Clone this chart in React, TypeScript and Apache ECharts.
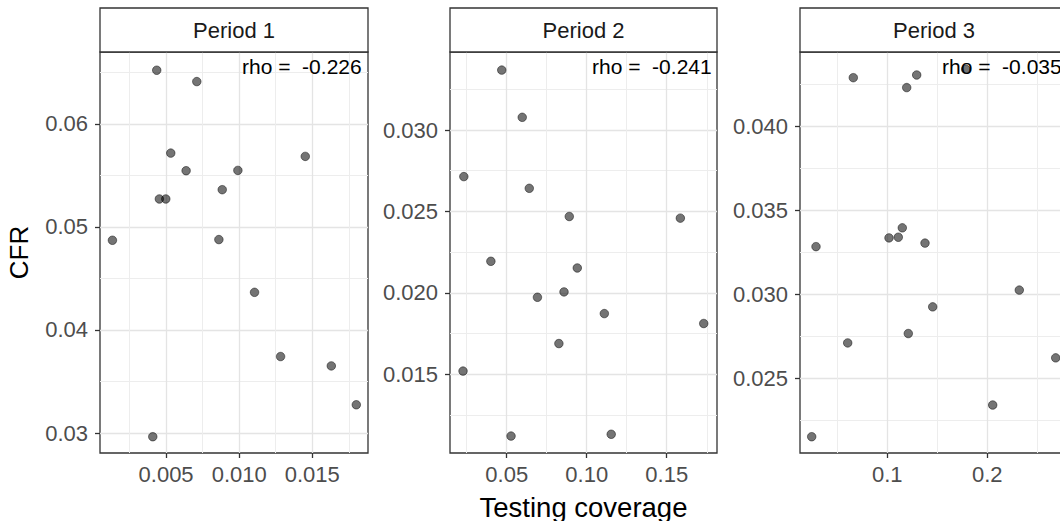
import React, { useEffect, useRef } from "react";
import * as echarts from "echarts";

// ---- Data ----
const periods = ["Period 1", "Period 2", "Period 3"];
const rhoLabels = ["rho =  -0.226", "rho =  -0.241", "rho =  -0.035"];

const p1Coverage = [0.00436, 0.0071, 0.00532, 0.00637, 0.00991, 0.01452, 0.00884, 0.00454, 0.00498, 0.00133, 0.00861, 0.01105, 0.01283, 0.0163, 0.01801, 0.00409];
const p1CFR = [0.0652, 0.0641, 0.05716, 0.05545, 0.05548, 0.05684, 0.05361, 0.05271, 0.05271, 0.0487, 0.04877, 0.04365, 0.03742, 0.03651, 0.03274, 0.02964];

const p2Coverage = [0.0469, 0.0597, 0.0232, 0.0641, 0.0891, 0.1585, 0.0401, 0.0941, 0.0858, 0.0692, 0.111, 0.1731, 0.0826, 0.0227, 0.0527, 0.1153];
const p2CFR = [0.03368, 0.03078, 0.02714, 0.02642, 0.02469, 0.02459, 0.02194, 0.02153, 0.02006, 0.01973, 0.01873, 0.01812, 0.01689, 0.0152, 0.01121, 0.01132];

const p3Coverage = [0.066, 0.1294, 0.1194, 0.1784, 0.0287, 0.1017, 0.111, 0.115, 0.1377, 0.232, 0.1454, 0.121, 0.0604, 0.2684, 0.2054, 0.0244];
const p3CFR = [0.04292, 0.04308, 0.04233, 0.04342, 0.03285, 0.03337, 0.03341, 0.03397, 0.03306, 0.03026, 0.02926, 0.02767, 0.02711, 0.02622, 0.02341, 0.02152];

const xTickLabels = [
  ["0.005", "0.010", "0.015"],
  ["0.05", "0.10", "0.15"],
  ["0.1", "0.2"],
];
const yTickLabels = [
  ["0.03", "0.04", "0.05", "0.06"],
  ["0.015", "0.020", "0.025", "0.030"],
  ["0.025", "0.030", "0.035", "0.040"],
];

const xRanges = [
  [0.00048, 0.01881],
  [0.01456, 0.1814],
  [0.0127, 0.2807],
];
const yRanges = [
  [0.02806, 0.06697],
  [0.01017, 0.03479],
  [0.02055, 0.04445],
];
const xSplit = [4, 3, 3];
const ySplit = [4, 5, 5];

const coverageSets = [p1Coverage, p2Coverage, p3Coverage];
const cfrSets = [p1CFR, p2CFR, p3CFR];

// ---- Layout ----
const panelLeft = [100, 450, 800];
const panelWidth = [268, 267, 268];
const panelTop = 52;
const panelHeight = 401;
const stripTop = 8;
const FONT = '"Liberation Sans", Arial, Helvetica, sans-serif';

function lookup(labels: string[]) {
  const vals = labels.map(Number);
  return (v: number) => {
    const i = vals.findIndex((t) => Math.abs(t - v) < 1e-9);
    return i >= 0 ? labels[i] : "";
  };
}

export default function App() {
  const ref = useRef<HTMLDivElement>(null);

  useEffect(() => {
    if (!ref.current) return;
    const chart = echarts.init(ref.current, null, { renderer: "svg" });

    const grids = panelLeft.map((l, i) => ({
      left: l,
      top: panelTop,
      width: panelWidth[i],
      height: panelHeight,
      show: true,
      backgroundColor: "#ffffff",
      borderColor: "#333333",
      borderWidth: 1.3,
      containLabel: false,
      outerBoundsMode: "none",
    }));

    const gridLine = { show: true, lineStyle: { color: "#e4e4e4", width: 1.3 } };
    const minorLine = { show: true, lineStyle: { color: "#ededed", width: 1 } };

    const xAxes = panelLeft.map((_, i) => ({
      type: "value",
      gridIndex: i,
      min: xRanges[i][0],
      max: xRanges[i][1],
      splitNumber: xSplit[i],
      axisLine: { show: false },
      axisTick: {
        show: true,
        length: 5,
        lineStyle: { color: "#333333", width: 1.3 },
        customValues: xTickLabels[i].map(Number),
      },
      axisLabel: {
        show: true,
        margin: 10,
        color: "#4d4d4d",
        fontSize: 22,
        fontFamily: FONT,
        customValues: xTickLabels[i].map(Number),
        formatter: lookup(xTickLabels[i]),
      },
      splitLine: gridLine,
      minorTick: { show: false, splitNumber: 2 },
      minorSplitLine: minorLine,
      name: i === 1 ? "Testing coverage" : "",
      nameLocation: "middle",
      nameGap: 40,
      nameTextStyle: { color: "#000000", fontSize: 27.5, fontFamily: FONT },
    }));

    const yAxes = panelLeft.map((_, i) => ({
      type: "value",
      gridIndex: i,
      min: yRanges[i][0],
      max: yRanges[i][1],
      splitNumber: ySplit[i],
      axisLine: { show: false },
      axisTick: {
        show: true,
        length: 5,
        lineStyle: { color: "#333333", width: 1.3 },
        customValues: yTickLabels[i].map(Number),
      },
      axisLabel: {
        show: true,
        margin: 12,
        color: "#4d4d4d",
        fontSize: 22,
        fontFamily: FONT,
        customValues: yTickLabels[i].map(Number),
        formatter: lookup(yTickLabels[i]),
      },
      splitLine: gridLine,
      minorTick: { show: false, splitNumber: 2 },
      minorSplitLine: minorLine,
      name: i === 0 ? "CFR" : "",
      nameLocation: "middle",
      nameGap: 68,
      nameRotate: 90,
      nameTextStyle: { color: "#000000", fontSize: 26, fontFamily: FONT },
    }));

    const series = panelLeft.map((_, i) => ({
      type: "scatter",
      xAxisIndex: i,
      yAxisIndex: i,
      symbol: "circle",
      symbolSize: 8.5,
      itemStyle: {
        color: "rgba(0,0,0,0.68)",
        borderColor: "rgba(0,0,0,0.6)",
        borderWidth: 1,
      },
      data: coverageSets[i].map((x, k) => [x, cfrSets[i][k]]),
      z: 3,
    }));

    const graphics: any[] = [];
    panelLeft.forEach((l, i) => {
      graphics.push({
        type: "rect",
        shape: { x: l, y: stripTop, width: panelWidth[i], height: panelTop - stripTop },
        style: { fill: "#ffffff", stroke: "#333333", lineWidth: 1.3 },
        z: 10,
      });
      graphics.push({
        type: "text",
        x: l + panelWidth[i] / 2,
        y: (stripTop + panelTop) / 2,
        style: {
          text: periods[i],
          font: `22px ${FONT}`,
          fill: "#1a1a1a",
          textAlign: "center",
          textVerticalAlign: "middle",
          align: "center",
          verticalAlign: "middle",
        },
        z: 11,
      });
      graphics.push({
        type: "text",
        x: l + 142,
        y: 66,
        style: {
          text: rhoLabels[i],
          font: `21px ${FONT}`,
          fill: "#000000",
          textAlign: "left",
          textVerticalAlign: "middle",
          align: "left",
          verticalAlign: "middle",
        },
        z: 2,
      });
    });

    chart.setOption({
      animation: false,
      backgroundColor: "#ffffff",
      grid: grids,
      xAxis: xAxes,
      yAxis: yAxes,
      series,
      graphic: { elements: graphics },
    } as any);

    return () => chart.dispose();
  }, []);

  return (
    <div
      ref={ref}
      style={{ position: "absolute", left: 0, top: 0, width: 1060, height: 521 }}
    />
  );
}
